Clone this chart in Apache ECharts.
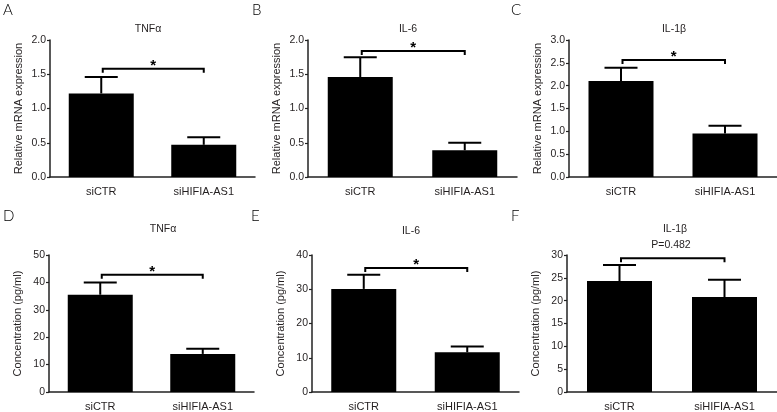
<!DOCTYPE html>
<html><head><meta charset="utf-8">
<script src="https://cdn.jsdelivr.net/npm/echarts@6/dist/echarts.min.js"></script>
<style>html,body{margin:0;padding:0;background:#fff}#c{width:777px;height:412px}</style>
</head><body><div id="c"></div>
<script>
// ---------- data ----------
const categories = ['siCTR', 'siHIFIA-AS1'];
const panelLetters = ['A', 'B', 'C', 'D', 'E', 'F'];
const panelTitles = ['TNFα', 'IL-6', 'IL-1β', 'TNFα', 'IL-6', 'IL-1β'];
const yAxisNames = ['Relative mRNA expression', 'Relative mRNA expression', 'Relative mRNA expression',
                    'Concentration (pg/ml)', 'Concentration (pg/ml)', 'Concentration (pg/ml)'];
const yMax = [2, 2, 3, 50, 40, 30];
const yStep = [0.5, 0.5, 0.5, 10, 10, 5];
const yDecimals = [1, 1, 1, 0, 0, 0];

const meanTnfMrna = [1.22, 0.47];  const semTnfMrna = [0.24, 0.11];
const meanIl6Mrna = [1.46, 0.39];  const semIl6Mrna = [0.29, 0.11];
const meanIl1bMrna = [2.10, 0.95]; const semIl1bMrna = [0.29, 0.17];
const meanTnfConc = [35.5, 13.9];  const semTnfConc = [4.5, 1.9];
const meanIl6Conc = [30.1, 11.6];  const semIl6Conc = [4.1, 1.7];
const meanIl1bConc = [24.3, 20.8]; const semIl1bConc = [3.5, 3.8];

const bracketLevel = [1.58, 1.84, 2.56, 42.8, 36.2, 29.3];
const sigLabels = ['*', '*', '*', '*', '*', ''];
const pValueNotes = ['', '', '', '', '', 'P=0.482'];

const panelMeans = [meanTnfMrna, meanIl6Mrna, meanIl1bMrna, meanTnfConc, meanIl6Conc, meanIl1bConc];
const panelSems = [semTnfMrna, semIl6Mrna, semIl1bMrna, semTnfConc, semIl6Conc, semIl1bConc];

// ---------- layout ----------
const layout = [
  {left: 50,  top: 40,  width: 205, height: 137, tx: 148, ty: 29,  lx: 3,   ly: 10},
  {left: 308, top: 40,  width: 209, height: 137, tx: 408, ty: 29,  lx: 252, ly: 10},
  {left: 569, top: 40,  width: 208, height: 137, tx: 674, ty: 29,  lx: 511, ly: 10},
  {left: 49,  top: 255, width: 205, height: 139, tx: 163, ty: 229, lx: 3,   ly: 216},
  {left: 312, top: 255, width: 207, height: 138, tx: 411, ty: 231, lx: 251, ly: 216},
  {left: 567, top: 255, width: 210, height: 138, tx: 675, ty: 229, lx: 511, ly: 216}
];

const TXT = '#231f20';
const FONT = '"Liberation Sans", Arial, sans-serif';

const grids = [], xAxes = [], yAxes = [], series = [], graphics = [];

layout.forEach((L, i) => {
  grids.push({left: L.left, top: L.top, width: L.width, height: L.height, containLabel: false});
  xAxes.push({
    type: 'category', gridIndex: i, data: categories,
    axisLine: {show: true, lineStyle: {color: '#222', width: 1.5}},
    axisTick: {show: false},
    axisLabel: {color: TXT, fontSize: 11, fontFamily: FONT, margin: 9},
    splitLine: {show: false}
  });
  yAxes.push({
    type: 'value', gridIndex: i, min: 0, max: yMax[i], interval: yStep[i],
    name: yAxisNames[i], nameLocation: 'middle', nameGap: 26,
    nameTextStyle: {color: TXT, fontSize: 11, fontFamily: FONT},
    axisLine: {show: true, lineStyle: {color: '#222', width: 1.5}},
    axisTick: {show: true, length: 3, lineStyle: {color: '#222', width: 1.2}},
    axisLabel: {color: TXT, fontSize: 10.5, fontFamily: FONT, margin: 4,
      formatter: v => v.toFixed(yDecimals[i])},
    splitLine: {show: false}
  });
  series.push({
    type: 'bar', xAxisIndex: i, yAxisIndex: i, data: panelMeans[i],
    barWidth: 65, itemStyle: {color: '#000'}, silent: true, animation: false
  });
  series.push({
    type: 'custom', xAxisIndex: i, yAxisIndex: i, z: 5, animation: false, silent: true,
    data: panelMeans[i].map((m, k) => [k, m, panelSems[i][k]]),
    encode: {x: 0, y: 1},
    renderItem: (params, api) => {
      const k = api.value(0), m = api.value(1), s = api.value(2);
      const base = api.coord([k, m]);
      const top = api.coord([k, m + s]);
      return {type: 'group', children: [
        {type: 'line', shape: {x1: base[0], y1: base[1], x2: base[0], y2: top[1]}, style: {stroke: '#000', lineWidth: 2}},
        {type: 'line', shape: {x1: base[0] - 16.5, y1: top[1], x2: base[0] + 16.5, y2: top[1]}, style: {stroke: '#000', lineWidth: 2}}
      ]};
    }
  });
  series.push({
    type: 'custom', xAxisIndex: i, yAxisIndex: i, z: 5, animation: false, silent: true, clip: false,
    data: [[0, 1, bracketLevel[i]]],
    encode: {x: 0, y: 2},
    renderItem: (params, api) => {
      const lvl = api.value(2);
      const p0 = api.coord([api.value(0), lvl]);
      const p1 = api.coord([api.value(1), lvl]);
      const x0 = p0[0] + 1.5, x1 = p1[0];
      const children = [
        {type: 'polyline', shape: {points: [[x0, p0[1] + 4], [x0, p0[1]], [x1, p0[1]], [x1, p0[1] + 4]]},
         style: {stroke: '#000', lineWidth: 2, fill: null}}
      ];
      if (sigLabels[i]) {
        children.push({type: 'text', x: (x0 + x1) / 2, y: p0[1] - 3,
          style: {text: sigLabels[i], fill: '#000', fontSize: 15, fontWeight: 'bold', fontFamily: FONT,
                  align: 'center', verticalAlign: 'middle'}});
      }
      return {type: 'group', children};
    }
  });
  graphics.push({type: 'text', left: L.lx, top: L.ly - 7,
    style: {text: panelLetters[i], fill: '#000', fontSize: 15, fontFamily: 'Lato, "Open Sans", sans-serif', fontWeight: 300}});
  graphics.push({type: 'text', x: L.tx, y: L.ty,
    style: {text: panelTitles[i], fill: TXT, fontSize: 10.5, fontFamily: FONT, align: 'center', verticalAlign: 'middle'}});
  if (pValueNotes[i]) {
    graphics.push({type: 'text', x: L.tx - 4, y: L.ty + 16,
      style: {text: pValueNotes[i], fill: TXT, fontSize: 10.5, fontFamily: FONT, align: 'center', verticalAlign: 'middle'}});
  }
});

const chart = echarts.init(document.getElementById('c'), null, {renderer: 'canvas'});
chart.setOption({
  animation: false,
  backgroundColor: '#fff',
  grid: grids, xAxis: xAxes, yAxis: yAxes, series: series, graphic: graphics
});
</script></body></html>
